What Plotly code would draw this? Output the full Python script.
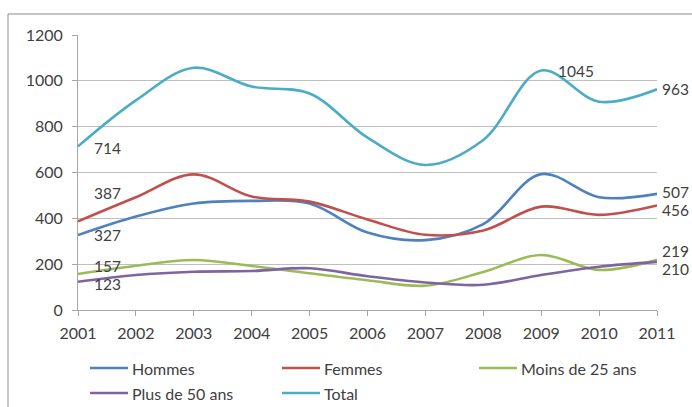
import plotly.graph_objects as go

# Yearly series
years = [2001, 2002, 2003, 2004, 2005, 2006, 2007, 2008, 2009, 2010, 2011]
hommes = [327, 408, 465, 476, 465, 338, 305, 375, 593, 492, 507]
femmes = [387, 492, 592, 495, 473, 395, 328, 347, 451, 415, 456]
moins_25 = [157, 193, 218, 192, 160, 130, 106, 166, 240, 175, 219]
plus_50 = [123, 153, 167, 170, 182, 147, 120, 110, 153, 189, 210]
total = [714, 915, 1057, 975, 945, 752, 633, 742, 1045, 909, 963]

names = ["Hommes", "Femmes", "Moins de 25 ans", "Plus de 50 ans", "Total"]
series = [hommes, femmes, moins_25, plus_50, total]
colors = ["#4F81BD", "#C0504D", "#9BBB59", "#8064A2", "#4BACC6"]

# Which points carry a value label: (series index, year index, x shift, y shift)
labelled = [
    (4, 0, 14, -2), (1, 0, 14, 28), (0, 0, 14, 0), (2, 0, 14, 8), (3, 0, 14, -2),
    (4, 8, 15, 0),
    (4, 10, 3, 0), (0, 10, 3, 2), (1, 10, 3, -4), (2, 10, 3, 9), (3, 10, 3, -7),
]

# Key layout below the plot: (column x, row y) in page pixels for each series
key_slots = [(90, 368), (282, 368), (479, 368), (90, 393), (282, 393)]

FONT = "Lato"
TXT = "#404040"
W, H = 692, 407
L, R, T, B = 78, 35, 35, 97
pw, ph = W - L - R, H - T - B


def px_to_paper(x, y):
    return (x - L) / pw, (H - B - y) / ph


fig = go.Figure()
for name, vals, col in zip(names, series, colors):
    fig.add_trace(go.Scatter(
        x=years, y=vals, name=name, mode="lines",
        line=dict(color=col, width=2.6, shape="spline", smoothing=1.0),
        showlegend=False,
    ))

annotations = []
for si, yi, dx, dy in labelled:
    annotations.append(dict(
        x=years[yi], y=series[si][yi], text=str(series[si][yi]),
        showarrow=False, xanchor="left", yanchor="middle",
        xshift=dx, yshift=dy,
        font=dict(family=FONT, size=15.5, color=TXT),
    ))

# Outer chart frame (open on the right and bottom edges of the page)
fx0, fy0 = px_to_paper(8, 440)
fx1, fy1 = px_to_paper(720, 14)
shapes = [dict(
    type="rect", xref="paper", yref="paper",
    x0=fx0, x1=fx1, y0=fy0, y1=fy1,
    line=dict(color="#8C8C8C", width=1), fillcolor="rgba(0,0,0,0)", layer="below",
)]

# Series key: a short line sample followed by the series name
for (kx, ky), name, col in zip(key_slots, names, colors):
    x0, y0 = px_to_paper(kx, ky)
    x1, _ = px_to_paper(kx + 38, ky)
    shapes.append(dict(
        type="line", xref="paper", yref="paper",
        x0=x0, x1=x1, y0=y0, y1=y0,
        line=dict(color=col, width=2.6),
    ))
    tx, ty = px_to_paper(kx + 40, ky)
    annotations.append(dict(
        xref="paper", yref="paper", x=tx, y=ty, text=name,
        showarrow=False, xanchor="left", yanchor="middle",
        font=dict(family=FONT, size=16, color=TXT),
    ))

fig.update_layout(
    width=W, height=H,
    margin=dict(l=L, r=R, t=T, b=B, autoexpand=False),
    paper_bgcolor="white", plot_bgcolor="white",
    font=dict(family=FONT, size=16, color=TXT),
    showlegend=False,
    annotations=annotations,
    shapes=shapes,
    xaxis=dict(
        range=[2001, 2011], tickmode="array", tickvals=years,
        ticktext=[str(y) for y in years],
        showgrid=False, showline=True, linecolor="#A6A6A6", linewidth=1,
        ticks="outside", ticklen=5, tickcolor="#A6A6A6",
        zeroline=False, tickfont=dict(family=FONT, size=16, color=TXT),
        ticklabelstandoff=4, automargin=False, fixedrange=True,
    ),
    yaxis=dict(
        range=[0, 1200], tickmode="linear", tick0=0, dtick=200,
        showgrid=True, gridcolor="#BFBFBF", gridwidth=1,
        showline=True, linecolor="#A6A6A6", linewidth=1,
        ticks="outside", ticklen=5, tickcolor="#A6A6A6",
        zeroline=False, tickfont=dict(family=FONT, size=16, color=TXT),
        ticklabelstandoff=6, automargin=False, fixedrange=True,
    ),
)

fig.write_html("out.html")
